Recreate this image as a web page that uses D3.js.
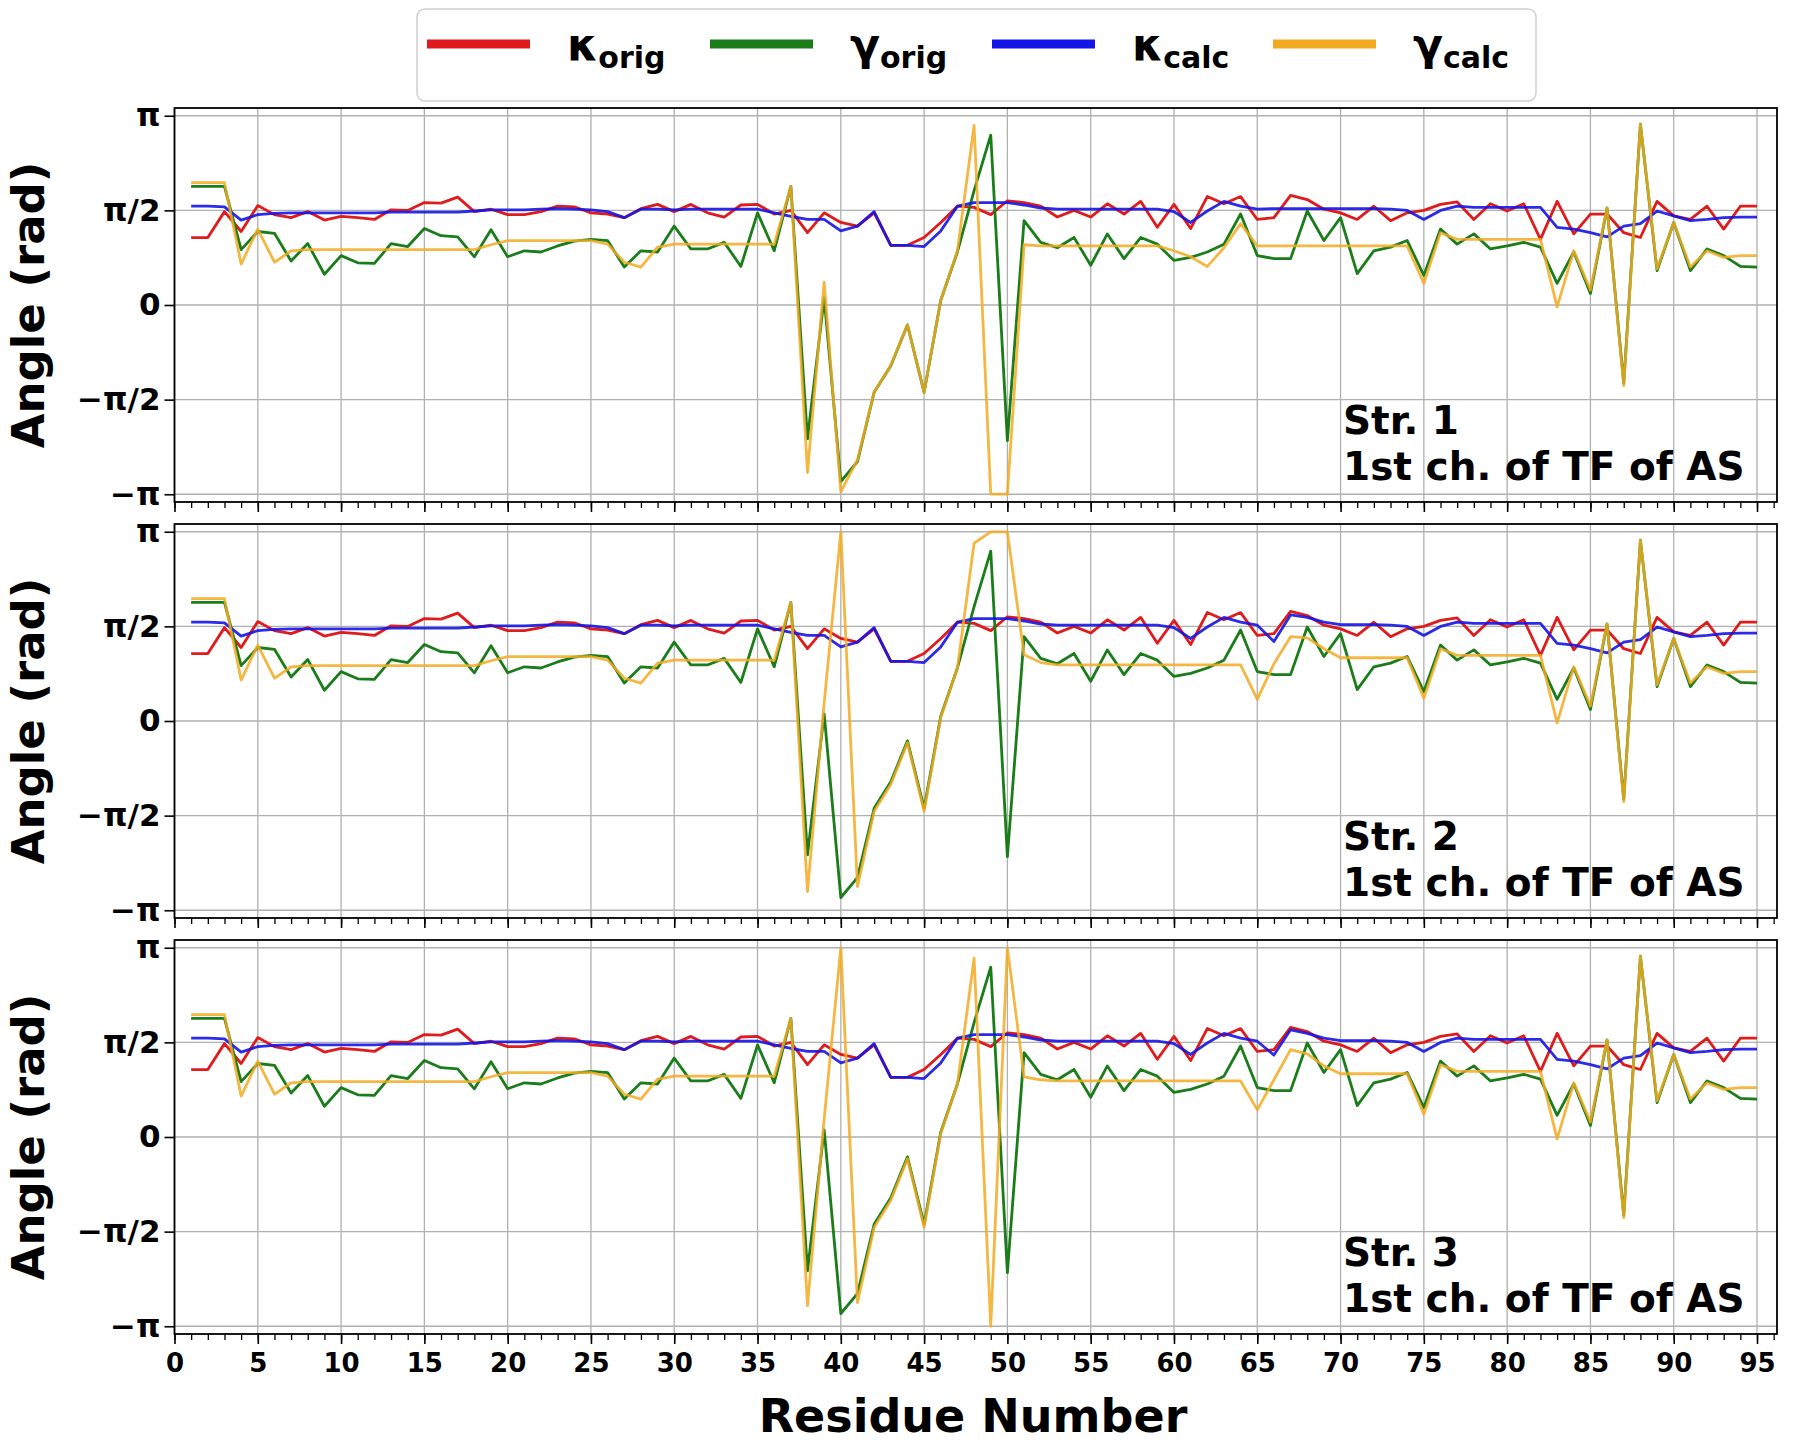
<!DOCTYPE html>
<html>
<head>
<meta charset="utf-8">
<script src="https://cdn.jsdelivr.net/npm/d3@7"></script>
<style>
body { margin: 0; background: #fff; }
text { font-family: "DejaVu Sans", sans-serif; font-weight: bold; }
</style>
</head>
<body>
<svg id="chart"></svg>
<script>
// residue numbers 1..95
var residues = d3.range(1, 96);

var kappaOrig = [1.12,1.12,1.55,1.22,1.65,1.50,1.45,1.55,1.41,1.47,
  1.45,1.42,1.58,1.57,1.70,1.69,1.79,1.55,1.59,1.50,
  1.50,1.55,1.64,1.63,1.53,1.51,1.45,1.60,1.67,1.55,
  1.67,1.53,1.46,1.66,1.67,1.51,1.57,1.20,1.53,1.37,
  1.31,1.53,0.99,0.99,1.12,1.37,1.64,1.62,1.50,1.73,
  1.70,1.64,1.46,1.57,1.46,1.68,1.51,1.72,1.29,1.67,
  1.27,1.80,1.68,1.80,1.42,1.45,1.82,1.75,1.59,1.53,
  1.42,1.64,1.40,1.53,1.57,1.67,1.71,1.42,1.68,1.56,
  1.68,1.09,1.72,1.18,1.51,1.51,1.20,1.12,1.72,1.48,
  1.42,1.64,1.26,1.64,1.64];

var gammaOrig = [1.97,1.97,1.97,0.92,1.22,1.19,0.73,1.02,0.51,0.82,
  0.70,0.69,1.02,0.97,1.27,1.15,1.13,0.80,1.25,0.80,
  0.90,0.88,0.98,1.06,1.09,1.07,0.63,0.90,0.88,1.31,
  0.93,0.93,1.04,0.64,1.53,0.90,1.97,-2.22,0.12,-2.93,
  -2.60,-1.45,-1.01,-0.33,-1.45,0.08,0.88,1.90,2.82,-2.25,
  1.40,1.04,0.95,1.12,0.66,1.18,0.77,1.12,1.01,0.74,
  0.79,0.88,1.01,1.51,0.82,0.77,0.77,1.56,1.07,1.45,
  0.52,0.90,0.96,1.07,0.49,1.26,1.01,1.18,0.93,0.98,
  1.04,0.96,0.36,0.88,0.19,1.61,-1.30,3.00,0.57,1.37,
  0.57,0.93,0.82,0.64,0.63];

var kappaCalc1 = [1.64,1.64,1.63,1.41,1.50,1.52,1.53,1.53,1.53,1.53,
  1.53,1.53,1.54,1.54,1.54,1.54,1.54,1.56,1.58,1.58,
  1.58,1.59,1.60,1.59,1.58,1.55,1.45,1.59,1.59,1.58,
  1.59,1.59,1.59,1.59,1.59,1.53,1.47,1.42,1.42,1.23,
  1.31,1.55,0.99,0.99,0.97,1.23,1.64,1.70,1.70,1.70,
  1.66,1.61,1.59,1.59,1.59,1.59,1.59,1.59,1.59,1.55,
  1.37,1.56,1.72,1.64,1.59,1.60,1.60,1.60,1.60,1.60,
  1.60,1.60,1.59,1.57,1.42,1.57,1.64,1.62,1.62,1.62,
  1.62,1.62,1.29,1.26,1.20,1.13,1.31,1.35,1.56,1.48,
  1.40,1.42,1.45,1.46,1.46];

var kappaCalc2 = [1.64,1.64,1.63,1.41,1.50,1.52,1.53,1.53,1.53,1.53,
  1.53,1.53,1.54,1.54,1.54,1.54,1.54,1.56,1.58,1.58,
  1.58,1.59,1.60,1.59,1.58,1.55,1.45,1.59,1.59,1.58,
  1.59,1.59,1.59,1.59,1.59,1.53,1.47,1.42,1.42,1.23,
  1.31,1.55,0.99,0.99,0.97,1.23,1.64,1.70,1.70,1.70,
  1.66,1.61,1.59,1.59,1.59,1.59,1.59,1.59,1.59,1.55,
  1.37,1.56,1.72,1.64,1.59,1.32,1.76,1.72,1.64,1.60,
  1.60,1.60,1.59,1.57,1.42,1.57,1.64,1.62,1.62,1.62,
  1.62,1.62,1.29,1.26,1.20,1.13,1.31,1.35,1.56,1.48,
  1.40,1.42,1.45,1.46,1.46];

var kappaCalc3 = [1.64,1.64,1.63,1.41,1.50,1.52,1.53,1.53,1.53,1.53,
  1.53,1.53,1.54,1.54,1.54,1.54,1.54,1.56,1.58,1.58,
  1.58,1.59,1.60,1.59,1.58,1.55,1.45,1.59,1.59,1.58,
  1.59,1.59,1.59,1.59,1.59,1.53,1.47,1.42,1.42,1.23,
  1.31,1.55,0.99,0.99,0.97,1.23,1.64,1.70,1.70,1.70,
  1.66,1.61,1.59,1.59,1.59,1.59,1.59,1.59,1.59,1.55,
  1.37,1.56,1.72,1.64,1.59,1.36,1.78,1.72,1.64,1.60,
  1.60,1.60,1.59,1.57,1.42,1.57,1.64,1.62,1.62,1.62,
  1.62,1.62,1.29,1.26,1.20,1.13,1.31,1.35,1.56,1.48,
  1.40,1.42,1.45,1.46,1.46];

var gammaCalc1 = [2.03,2.03,2.03,0.68,1.26,0.71,0.90,0.92,0.92,0.92,
  0.92,0.92,0.92,0.92,0.92,0.92,0.92,0.92,1.00,1.07,
  1.07,1.07,1.07,1.07,1.07,1.01,0.71,0.63,0.96,1.01,
  1.01,1.01,1.01,1.01,1.01,1.01,1.97,-2.78,0.38,-3.10,
  -2.57,-1.45,-1.00,-0.33,-1.45,0.08,0.90,2.98,-3.14,-3.14,
  1.00,0.98,0.98,0.98,0.98,0.98,0.98,0.98,0.98,0.90,
  0.80,0.64,0.95,1.35,0.98,0.98,0.98,0.98,0.98,0.98,
  0.98,0.98,0.98,0.98,0.36,1.20,1.09,1.09,1.09,1.09,
  1.09,1.09,-0.03,0.90,0.25,1.61,-1.34,3.00,0.60,1.37,
  0.63,0.90,0.79,0.82,0.82];

var gammaCalc2 = [2.03,2.03,2.03,0.68,1.26,0.71,0.90,0.92,0.92,0.92,
  0.92,0.92,0.92,0.92,0.92,0.92,0.92,0.92,1.00,1.07,
  1.07,1.07,1.07,1.07,1.07,1.01,0.71,0.63,0.96,1.01,
  1.01,1.01,1.01,1.01,1.01,1.01,1.97,-2.83,0.30,3.14,
  -2.75,-1.50,-1.05,-0.36,-1.50,0.06,0.88,2.95,3.14,3.14,
  1.10,0.97,0.93,0.93,0.93,0.93,0.93,0.93,0.93,0.93,
  0.93,0.93,0.93,0.93,0.36,0.95,1.40,1.38,1.20,1.05,
  1.05,1.05,1.05,1.05,0.38,1.20,1.09,1.09,1.09,1.09,
  1.09,1.09,-0.03,0.90,0.25,1.61,-1.34,3.00,0.60,1.37,
  0.63,0.90,0.79,0.82,0.82];

var gammaCalc3 = [2.03,2.03,2.03,0.68,1.26,0.71,0.90,0.92,0.92,0.92,
  0.92,0.92,0.92,0.92,0.92,0.92,0.92,0.92,1.00,1.07,
  1.07,1.07,1.07,1.07,1.07,1.01,0.71,0.63,0.96,1.01,
  1.01,1.01,1.01,1.01,1.01,1.01,1.97,-2.80,0.30,3.14,
  -2.75,-1.50,-1.05,-0.36,-1.50,0.06,0.88,2.97,-3.14,3.14,
  1.00,0.95,0.93,0.93,0.93,0.93,0.93,0.93,0.93,0.93,
  0.93,0.93,0.93,0.93,0.45,0.95,1.45,1.38,1.18,1.05,
  1.05,1.05,1.05,1.05,0.38,1.20,1.09,1.09,1.09,1.09,
  1.09,1.09,-0.03,0.90,0.25,1.61,-1.34,3.00,0.60,1.37,
  0.63,0.90,0.79,0.82,0.82];

var panelNames = ["Str. 1", "Str. 2", "Str. 3"];
var kappaCalcs = [kappaCalc1, kappaCalc2, kappaCalc3];
var gammaCalcs = [gammaCalc1, gammaCalc2, gammaCalc3];

var xTicks = d3.range(0, 96, 5);
var xMinor = d3.range(0, 97, 1);
var yTicks = [-Math.PI, -Math.PI / 2, 0, Math.PI / 2, Math.PI];
var yLabels = ["\u2212\u03c0", "\u2212\u03c0/2", "0", "\u03c0/2", "\u03c0"];

var colors = {ko: "#e01b1b", go: "#1a7d1a", kc: "#1414e6", gc: "#f2aa22"};

var w = 1800;
var h = 1449;
var left = 174.5, right = 1777;
var panelTops = [108, 524, 940];
var panelH = 394;

var svg = d3.select("#chart")
  .attr("width", w)
  .attr("height", h)

var x = d3.scaleLinear().domain([0, 96.2]).range([left, right]);

panelTops.forEach(function(top, p) {

  var y = d3.scaleLinear().domain([-3.27, 3.27]).range([top + panelH, top]);
  var g = svg.append("g");

  g.append("clipPath").attr("id", "clip" + p)
    .append("rect")
    .attr("x", left).attr("y", top)
    .attr("width", right - left).attr("height", panelH);

  // grid
  g.selectAll(".vgrid").data(xTicks).enter().append("line")
    .attr("x1", function(d) { return x(d); })
    .attr("x2", function(d) { return x(d); })
    .attr("y1", top).attr("y2", top + panelH)
    .attr("stroke", "#b0b0b0").attr("stroke-width", 1.3);
  g.selectAll(".hgrid").data(yTicks).enter().append("line")
    .attr("x1", left).attr("x2", right)
    .attr("y1", function(d) { return y(d); })
    .attr("y2", function(d) { return y(d); })
    .attr("stroke", "#b0b0b0").attr("stroke-width", 1.3);

  var line = d3.line()
    .x(function(d, i) { return x(residues[i]); })
    .y(function(d) { return y(d); });

  var series = [
    [kappaOrig, colors.ko, 1],
    [gammaOrig, colors.go, 1],
    [kappaCalcs[p], colors.kc, 0.9],
    [gammaCalcs[p], colors.gc, 0.85]
  ];

  var lines = g.append("g").attr("clip-path", "url(#clip" + p + ")");
  series.forEach(function(s) {
    lines.append("path")
      .attr("d", line(s[0]))
      .attr("fill", "none")
      .attr("stroke", s[1])
      .attr("stroke-opacity", s[2])
      .attr("stroke-width", 2.8)
      .attr("stroke-linejoin", "round");
  });

  // axes
  var yAxis = d3.axisLeft(y)
    .tickValues(yTicks)
    .tickFormat(function(d, i) { return yLabels[i]; })
    .tickSize(10).tickPadding(4);
  var ya = g.append("g").attr("transform", "translate(" + left + ",0)").call(yAxis);
  ya.select(".domain").remove();
  ya.selectAll("line").attr("stroke-width", 1.6);
  ya.selectAll("text").attr("font-size", 31).attr("font-weight", "bold").attr("fill", "#000");

  var minorAxis = d3.axisBottom(x).tickValues(xMinor).tickSize(6).tickFormat("");
  var ma = g.append("g").attr("transform", "translate(0," + (top + panelH) + ")").call(minorAxis);
  ma.select(".domain").remove();
  ma.selectAll("line").attr("stroke-width", 1.3);

  var xAxis = d3.axisBottom(x).tickValues(xTicks).tickSize(10).tickPadding(10);
  if (p < 2) xAxis.tickFormat("");
  var xa = g.append("g").attr("transform", "translate(0," + (top + panelH) + ")").call(xAxis);
  xa.select(".domain").remove();
  xa.selectAll("line").attr("stroke-width", 1.6);
  xa.selectAll("text").attr("font-size", 26).attr("font-weight", "bold").attr("fill", "#000");

  // frame
  g.append("rect")
    .attr("x", left).attr("y", top)
    .attr("width", right - left).attr("height", panelH)
    .attr("fill", "none").attr("stroke", "#000").attr("stroke-width", 1.8);

  // annotation, two lines
  g.append("text").attr("x", 1343).attr("y", top + 326).attr("font-size", 39)
    .text(panelNames[p]);
  g.append("text").attr("x", 1343).attr("y", top + 372).attr("font-size", 39)
    .text("1st ch. of TF of AS");

  // y label
  svg.append("text")
    .attr("transform", "translate(44," + (top + panelH / 2) + ") rotate(-90)")
    .attr("text-anchor", "middle")
    .attr("font-size", 45)
    .text("Angle (rad)");
});

svg.append("text")
  .attr("x", 973).attr("y", 1432)
  .attr("text-anchor", "middle")
  .attr("font-size", 46)
  .text("Residue Number");

// legend
var legendItems = [
  {sym: "\u03ba", sub: "orig", color: colors.ko},
  {sym: "\u03b3", sub: "orig", color: colors.go},
  {sym: "\u03ba", sub: "calc", color: colors.kc},
  {sym: "\u03b3", sub: "calc", color: colors.gc}
];
var legend = svg.append("g");
legend.append("rect")
  .attr("x", 417).attr("y", 9).attr("width", 1119).attr("height", 92)
  .attr("rx", 8).attr("fill", "#fff").attr("stroke", "#d0d0d0").attr("stroke-width", 1.5);
var lx = [427, 710, 992, 1273];
legendItems.forEach(function(d, i) {
  legend.append("line")
    .attr("x1", lx[i]).attr("x2", lx[i] + 103)
    .attr("y1", 44).attr("y2", 44)
    .attr("stroke", d.color).attr("stroke-width", 9);
  var t = legend.append("text").attr("x", lx[i] + 140).attr("y", 60).attr("font-size", 44);
  t.append("tspan").text(d.sym);
  t.append("tspan").attr("font-size", 30).attr("dy", 8).text(d.sub);
});
</script>
</body>
</html>
